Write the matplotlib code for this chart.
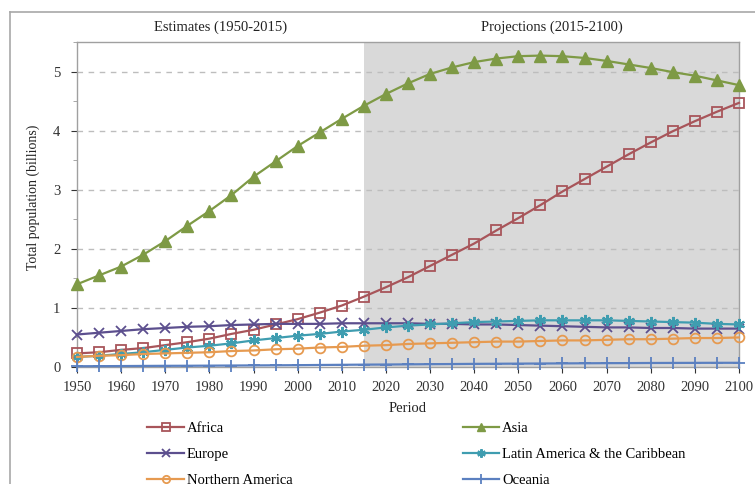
import matplotlib
matplotlib.use("Agg")
import matplotlib.pyplot as plt
from matplotlib import transforms
from matplotlib.lines import Line2D
from matplotlib.ticker import MultipleLocator

plt.rcParams["font.family"] = ["Liberation Serif", "DejaVu Serif"]

# Total population by region, billions
years = list(range(1950, 2101, 5))
africa = [0.23, 0.25, 0.29, 0.32, 0.37, 0.42, 0.48, 0.56, 0.63, 0.72, 0.81, 0.92,
          1.04, 1.19, 1.35, 1.52, 1.71, 1.90, 2.09, 2.31, 2.52, 2.74, 2.97, 3.18,
          3.39, 3.60, 3.80, 3.99, 4.16, 4.32, 4.47]
asia = [1.40, 1.55, 1.70, 1.90, 2.13, 2.39, 2.64, 2.91, 3.22, 3.48, 3.74, 3.97,
        4.20, 4.42, 4.62, 4.80, 4.96, 5.07, 5.16, 5.22, 5.26, 5.27, 5.26, 5.23,
        5.18, 5.12, 5.06, 4.99, 4.93, 4.85, 4.77]
europe = [0.55, 0.58, 0.61, 0.64, 0.66, 0.68, 0.69, 0.71, 0.72, 0.73, 0.73, 0.73,
          0.74, 0.74, 0.74, 0.74, 0.73, 0.73, 0.72, 0.72, 0.71, 0.70, 0.69, 0.68,
          0.67, 0.67, 0.66, 0.66, 0.65, 0.65, 0.65]
latin = [0.17, 0.19, 0.22, 0.25, 0.29, 0.33, 0.36, 0.40, 0.45, 0.49, 0.53, 0.56,
         0.60, 0.63, 0.67, 0.70, 0.72, 0.74, 0.76, 0.77, 0.78, 0.79, 0.79, 0.79,
         0.79, 0.78, 0.77, 0.76, 0.75, 0.73, 0.72]
n_america = [0.17, 0.19, 0.20, 0.22, 0.23, 0.24, 0.25, 0.27, 0.28, 0.30, 0.31, 0.33,
             0.34, 0.36, 0.37, 0.39, 0.40, 0.41, 0.42, 0.43, 0.43, 0.44, 0.45, 0.45,
             0.46, 0.47, 0.47, 0.48, 0.49, 0.49, 0.50]
oceania = [0.013, 0.014, 0.016, 0.018, 0.020, 0.021, 0.023, 0.025, 0.027, 0.029,
           0.031, 0.034, 0.037, 0.040, 0.042, 0.045, 0.048, 0.050, 0.053, 0.055,
           0.057, 0.059, 0.061, 0.063, 0.065, 0.066, 0.068, 0.069, 0.070, 0.071, 0.071]

series = [
    ("Africa", africa, "#a8555a", dict(marker="s", markersize=7, markerfacecolor="none", markeredgewidth=1.3)),
    ("Asia", asia, "#7e9a45", dict(marker="^", markersize=8)),
    ("Europe", europe, "#5c4f8e", dict(marker="x", markersize=7, markeredgewidth=1.3)),
    ("Latin America & the Caribbean", latin, "#3f9db0", dict(marker=(6, 2, 0), markersize=8, markeredgewidth=1.6)),
    ("Northern America", n_america, "#e69a50", dict(marker="o", markersize=7, markerfacecolor="none", markeredgewidth=1.3)),
    ("Oceania", oceania, "#5b80c0", dict(marker="+", markersize=9, markeredgewidth=1.3)),
]

W, H = 755, 484
fig = plt.figure(figsize=(W / 100, H / 100), dpi=100)
ax = fig.add_axes([77 / W, 1 - 367 / H, 662 / W, 325 / H])

ax.axvspan(2015, 2100, color="#d9d9d9", zorder=0, lw=0)
for y in range(1, 6):
    ax.axhline(y, color="#bdbdbd", lw=1, ls=(0, (4, 4)), zorder=1)

for name, vals, color, style in series:
    ax.plot(years, vals, color=color, lw=1.6, label=name, clip_on=False, zorder=3, **style)

ax.set_xlim(1950, 2100)
ax.set_ylim(0, 5.5)
ax.set_xticks(range(1950, 2101, 10))
ax.set_yticks(range(0, 6))
ax.yaxis.set_minor_locator(MultipleLocator(0.5))
ax.tick_params(axis="both", labelsize=10.5, colors="#333333", length=4, width=0.8)
ax.tick_params(axis="y", which="minor", length=3, color="#999999")
ax.tick_params(axis="x", pad=6)
ax.tick_params(axis="y", pad=8)
for sp in ax.spines.values():
    sp.set_color("#a0a0a0")
    sp.set_linewidth(1)

ax.set_xlabel("Period", fontsize=10.5, color="#222222", labelpad=6)
fig.text(33 / W, 1 - 197 / H, "Total population (billions)", rotation=90,
         ha="center", va="center", fontsize=10, color="#222222")

trans = transforms.blended_transform_factory(ax.transData, fig.transFigure)
ax.text(1982.5, 1 - 27 / H, "Estimates (1950-2015)", transform=trans,
        ha="center", va="center", fontsize=10.5, color="#222222")
ax.text(2057.5, 1 - 27 / H, "Projections (2015-2100)", transform=trans,
        ha="center", va="center", fontsize=10.5, color="#222222")

# outer chart frame (left and top edges visible)
fig.add_artist(Line2D([10 / W, 10 / W], [0, 1 - 12 / H], transform=fig.transFigure,
                      color="#a8a8a8", lw=1.2))
fig.add_artist(Line2D([10 / W, 1], [1 - 12 / H, 1 - 12 / H], transform=fig.transFigure,
                      color="#a8a8a8", lw=1.2))

# legend fills column by column, so reorder to read row by row
handles, labels = ax.get_legend_handles_labels()
order = [0, 2, 4, 1, 3, 5]
fig.legend([handles[i] for i in order], [labels[i] for i in order], ncol=2,
           loc="upper left", bbox_to_anchor=(140 / W, 1 - 415 / H), frameon=False,
           fontsize=10.5, borderpad=0, handlelength=2.5, handletextpad=0.2,
           labelspacing=0.85, columnspacing=11.7, markerscale=0.75)

fig.savefig("out.png", dpi=100)
